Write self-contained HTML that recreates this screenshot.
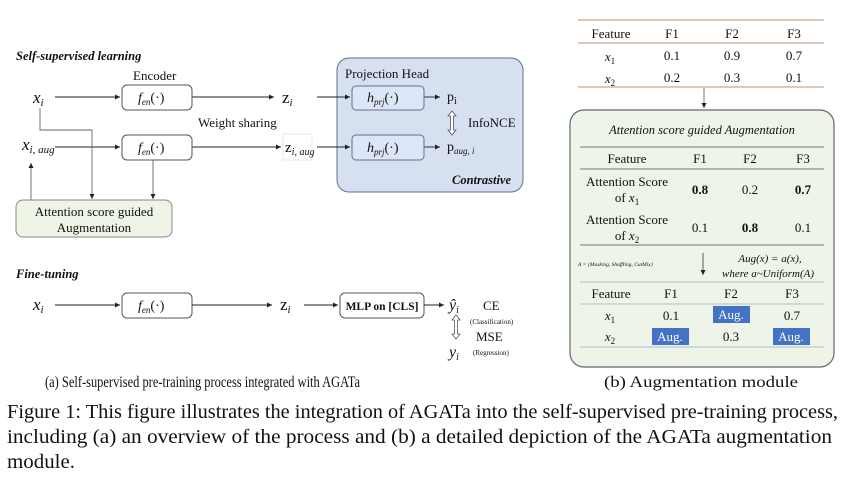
<!DOCTYPE html>
<html><head><meta charset="utf-8"><style>
html,body{margin:0;padding:0;background:#fff}
svg{display:block}
text{font-family:"Liberation Serif",serif;fill:#111}
.i{font-style:italic}
.b{font-weight:bold}
</style></head><body>
<svg width="846" height="485" viewBox="0 0 846 485" xmlns="http://www.w3.org/2000/svg">
<defs>
<marker id="a" markerWidth="6" markerHeight="6" refX="5" refY="3" orient="auto" markerUnits="userSpaceOnUse"><path d="M0,0.5 L5,3 L0,5.5z" fill="#222"/></marker>
</defs>
<g stroke="#222" stroke-width="0.9" fill="none">
<line x1="55" y1="97" x2="120" y2="97" marker-end="url(#a)"/>
<line x1="192" y1="97" x2="274" y2="97" marker-end="url(#a)"/>
<line x1="55" y1="147" x2="120" y2="147" marker-end="url(#a)"/>
<line x1="192" y1="147" x2="281" y2="147" marker-end="url(#a)"/>
<polyline points="40,108 40,130 92,130 92,199" stroke="#666" marker-end="url(#a)"/>
<line x1="153" y1="160" x2="153" y2="199" stroke="#666" marker-end="url(#a)"/>
<line x1="31" y1="200" x2="31" y2="163" stroke="#666" marker-end="url(#a)"/>
</g>
<rect x="337" y="58" width="186" height="134" rx="12" fill="#d7e0f1" stroke="#60708a" stroke-width="1"/>
<g stroke="#222" stroke-width="0.9" fill="none">
<line x1="317" y1="97" x2="350" y2="97" marker-end="url(#a)"/>
<line x1="317" y1="147" x2="350" y2="147" marker-end="url(#a)"/>
<line x1="424" y1="97" x2="440" y2="97" marker-end="url(#a)"/>
<line x1="424" y1="147" x2="440" y2="147" marker-end="url(#a)"/>
</g>
<g fill="#fff" stroke="#555" stroke-width="1">
<rect x="122" y="85" width="70" height="25" rx="5"/>
<rect x="122" y="135" width="70" height="25" rx="5"/>
<rect x="122" y="293" width="70" height="25" rx="5"/>
<rect x="340" y="293" width="84" height="25" rx="5"/>
</g>
<g fill="#dce6f6" stroke="#60708a" stroke-width="1">
<rect x="352" y="86" width="72" height="24" rx="4"/>
<rect x="352" y="135" width="72" height="25" rx="4"/>
</g>
<rect x="283" y="134" width="29" height="26" fill="#fff" stroke="#ddd" stroke-width="0.7"/>
<rect x="16" y="200" width="156" height="37" rx="7" fill="#eef5e6" stroke="#888" stroke-width="1"/>
<path d="M452,111 l-4,5 h2.5 v14 h-2.5 l4,5 l4,-5 h-2.5 v-14 h2.5z" fill="#fff" stroke="#556" stroke-width="0.8"/>
<path d="M456,315 l-4,5 h2.5 v14 h-2.5 l4,5 l4,-5 h-2.5 v-14 h2.5z" fill="#fff" stroke="#556" stroke-width="0.8"/>
<text x="16" y="60" class="i b" font-size="12.5">Self-supervised learning</text>
<text x="133" y="80" font-size="13">Encoder</text>
<text x="33" y="103" class="i" font-size="17">x<tspan font-size="11" dy="3">i</tspan></text>
<text x="138" y="102" class="i" font-size="14">f<tspan font-size="9" dy="3">en</tspan><tspan dy="-3" font-style="normal">(·)</tspan></text>
<text x="282" y="103" font-size="17">z<tspan font-size="11" dy="3" class="i">i</tspan></text>
<text x="198" y="127" font-size="13">Weight sharing</text>
<text x="22" y="150" class="i" font-size="17">x<tspan font-size="11" dy="3">i, aug</tspan></text>
<text x="138" y="152" class="i" font-size="14">f<tspan font-size="9" dy="3">en</tspan><tspan dy="-3" font-style="normal">(·)</tspan></text>
<text x="285" y="152" font-size="15">z<tspan font-size="10" dy="3" class="i">i, aug</tspan></text>
<text x="345" y="78" font-size="13">Projection Head</text>
<text x="367" y="102" class="i" font-size="14">h<tspan font-size="9" dy="3">prj</tspan><tspan dy="-3" font-style="normal">(·)</tspan></text>
<text x="367" y="152" class="i" font-size="14">h<tspan font-size="9" dy="3">prj</tspan><tspan dy="-3" font-style="normal">(·)</tspan></text>
<text x="447" y="101" font-size="14">p<tspan font-size="10" dy="3">i</tspan></text>
<text x="468" y="127" font-size="13">InfoNCE</text>
<text x="447" y="151" font-size="14">p<tspan font-size="9" dy="3" class="i">aug, i</tspan></text>
<text x="452" y="184" class="i b" font-size="12.5">Contrastive</text>
<text x="94" y="216" font-size="13" text-anchor="middle">Attention score guided</text>
<text x="94" y="232" font-size="13" text-anchor="middle">Augmentation</text>
<text x="16" y="278" class="i b" font-size="12.5">Fine-tuning</text>
<g stroke="#222" stroke-width="0.9" fill="none">
<line x1="55" y1="305" x2="120" y2="305" marker-end="url(#a)"/>
<line x1="192" y1="305" x2="272" y2="305" marker-end="url(#a)"/>
<line x1="304" y1="305" x2="338" y2="305" marker-end="url(#a)"/>
<line x1="424" y1="305" x2="444" y2="305" marker-end="url(#a)"/>
</g>
<text x="33" y="310" class="i" font-size="17">x<tspan font-size="11" dy="3">i</tspan></text>
<text x="138" y="310" class="i" font-size="14">f<tspan font-size="9" dy="3">en</tspan><tspan dy="-3" font-style="normal">(·)</tspan></text>
<text x="280" y="310" font-size="17">z<tspan font-size="11" dy="3" class="i">i</tspan></text>
<text x="382" y="310" class="b" font-size="11.5" text-anchor="middle">MLP on [CLS]</text>
<text x="449" y="310" class="i" font-size="16">ŷ<tspan font-size="10" dy="3">i</tspan></text>
<text x="483" y="310" font-size="13">CE</text>
<text x="470" y="324" font-size="7">(Classification)</text>
<text x="476" y="341" font-size="13">MSE</text>
<text x="473" y="355" font-size="7">(Regression)</text>
<text x="449" y="357" class="i" font-size="16">y<tspan font-size="10" dy="3">i</tspan></text>
<g stroke="#c9a98f" stroke-width="1.2">
<line x1="578" y1="20" x2="824" y2="20"/><line x1="578" y1="43" x2="824" y2="43"/><line x1="578" y1="87" x2="824" y2="87"/>
</g>
<g font-size="13" text-anchor="middle">
<text x="611" y="38">Feature</text><text x="672" y="38">F1</text><text x="732" y="38">F2</text><text x="794" y="38">F3</text>
<text x="610" y="61" class="i">x<tspan font-size="9" dy="3" font-style="normal">1</tspan></text><text x="672" y="60">0.1</text><text x="732" y="60">0.9</text><text x="794" y="60">0.7</text>
<text x="610" y="83" class="i">x<tspan font-size="9" dy="3" font-style="normal">2</tspan></text><text x="672" y="82">0.2</text><text x="732" y="82">0.3</text><text x="794" y="82">0.1</text>
</g>
<line x1="704" y1="88" x2="704" y2="108" stroke="#777" stroke-width="1" marker-end="url(#a)"/>
<rect x="570" y="110" width="264" height="257" rx="14" fill="#eff4e8" stroke="#5a6a70" stroke-width="1.2"/>
<text x="702" y="134" class="i" font-size="12.5" text-anchor="middle" fill="#333">Attention score guided Augmentation</text>
<g stroke="#777" stroke-width="1"><line x1="580" y1="147" x2="824" y2="147"/><line x1="580" y1="169" x2="824" y2="169"/><line x1="580" y1="245" x2="824" y2="245"/></g>
<g stroke="#a8bfd0" stroke-width="1"><line x1="580" y1="282" x2="824" y2="282"/><line x1="580" y1="304" x2="824" y2="304"/><line x1="580" y1="347" x2="824" y2="347"/></g>
<g font-size="13" text-anchor="middle">
<text x="627" y="163">Feature</text><text x="700" y="163">F1</text><text x="750" y="163">F2</text><text x="803" y="163">F3</text>
<text x="627" y="186">Attention Score</text><text x="627" y="202">of <tspan class="i">x</tspan><tspan font-size="9" dy="3">1</tspan></text>
<text x="700" y="194" class="b">0.8</text><text x="750" y="194">0.2</text><text x="803" y="194" class="b">0.7</text>
<text x="627" y="224">Attention Score</text><text x="627" y="240">of <tspan class="i">x</tspan><tspan font-size="9" dy="3">2</tspan></text>
<text x="700" y="232">0.1</text><text x="750" y="232" class="b">0.8</text><text x="803" y="232">0.1</text>
</g>
<text x="578" y="266" font-size="5.5" class="i" fill="#333">A = {Masking, Shuffling, CutMix}</text>
<line x1="703" y1="253" x2="703" y2="275" stroke="#333" stroke-width="0.8" marker-end="url(#a)"/>
<text x="770" y="262" class="i" font-size="11" text-anchor="middle">Aug(x) = a(x),</text>
<text x="768" y="277" class="i" font-size="11" text-anchor="middle">where a~Uniform(A)</text>
<g fill="#4472c4"><rect x="713" y="306" width="37" height="17"/><rect x="652" y="328" width="37" height="17"/><rect x="773" y="328" width="37" height="17"/></g>
<g font-size="13" text-anchor="middle">
<text x="611" y="298">Feature</text><text x="671" y="298">F1</text><text x="731" y="298">F2</text><text x="792" y="298">F3</text>
<text x="610" y="320" class="i">x<tspan font-size="9" dy="3" font-style="normal">1</tspan></text><text x="671" y="320">0.1</text><text x="731" y="319" style="fill:#fff">Aug.</text><text x="792" y="320">0.7</text>
<text x="610" y="341" class="i">x<tspan font-size="9" dy="3" font-style="normal">2</tspan></text><text x="670" y="341" style="fill:#fff">Aug.</text><text x="731" y="341">0.3</text><text x="791" y="341" style="fill:#fff">Aug.</text>
</g>
<text x="45" y="387" font-size="16" textLength="315" lengthAdjust="spacingAndGlyphs">(a) Self-supervised pre-training process integrated with AGATa</text>
<text x="604" y="387" font-size="16" textLength="194" lengthAdjust="spacingAndGlyphs">(b) Augmentation module</text>
<text x="7" y="418" font-size="20" textLength="831" lengthAdjust="spacingAndGlyphs">Figure 1: This figure illustrates the integration of AGATa into the self-supervised pre-training process,</text>
<text x="7" y="443" font-size="20" textLength="825" lengthAdjust="spacingAndGlyphs">including (a) an overview of the process and (b) a detailed depiction of the AGATa augmentation</text>
<text x="7" y="468" font-size="20" textLength="68" lengthAdjust="spacingAndGlyphs">module.</text>
</svg>
</body></html>
